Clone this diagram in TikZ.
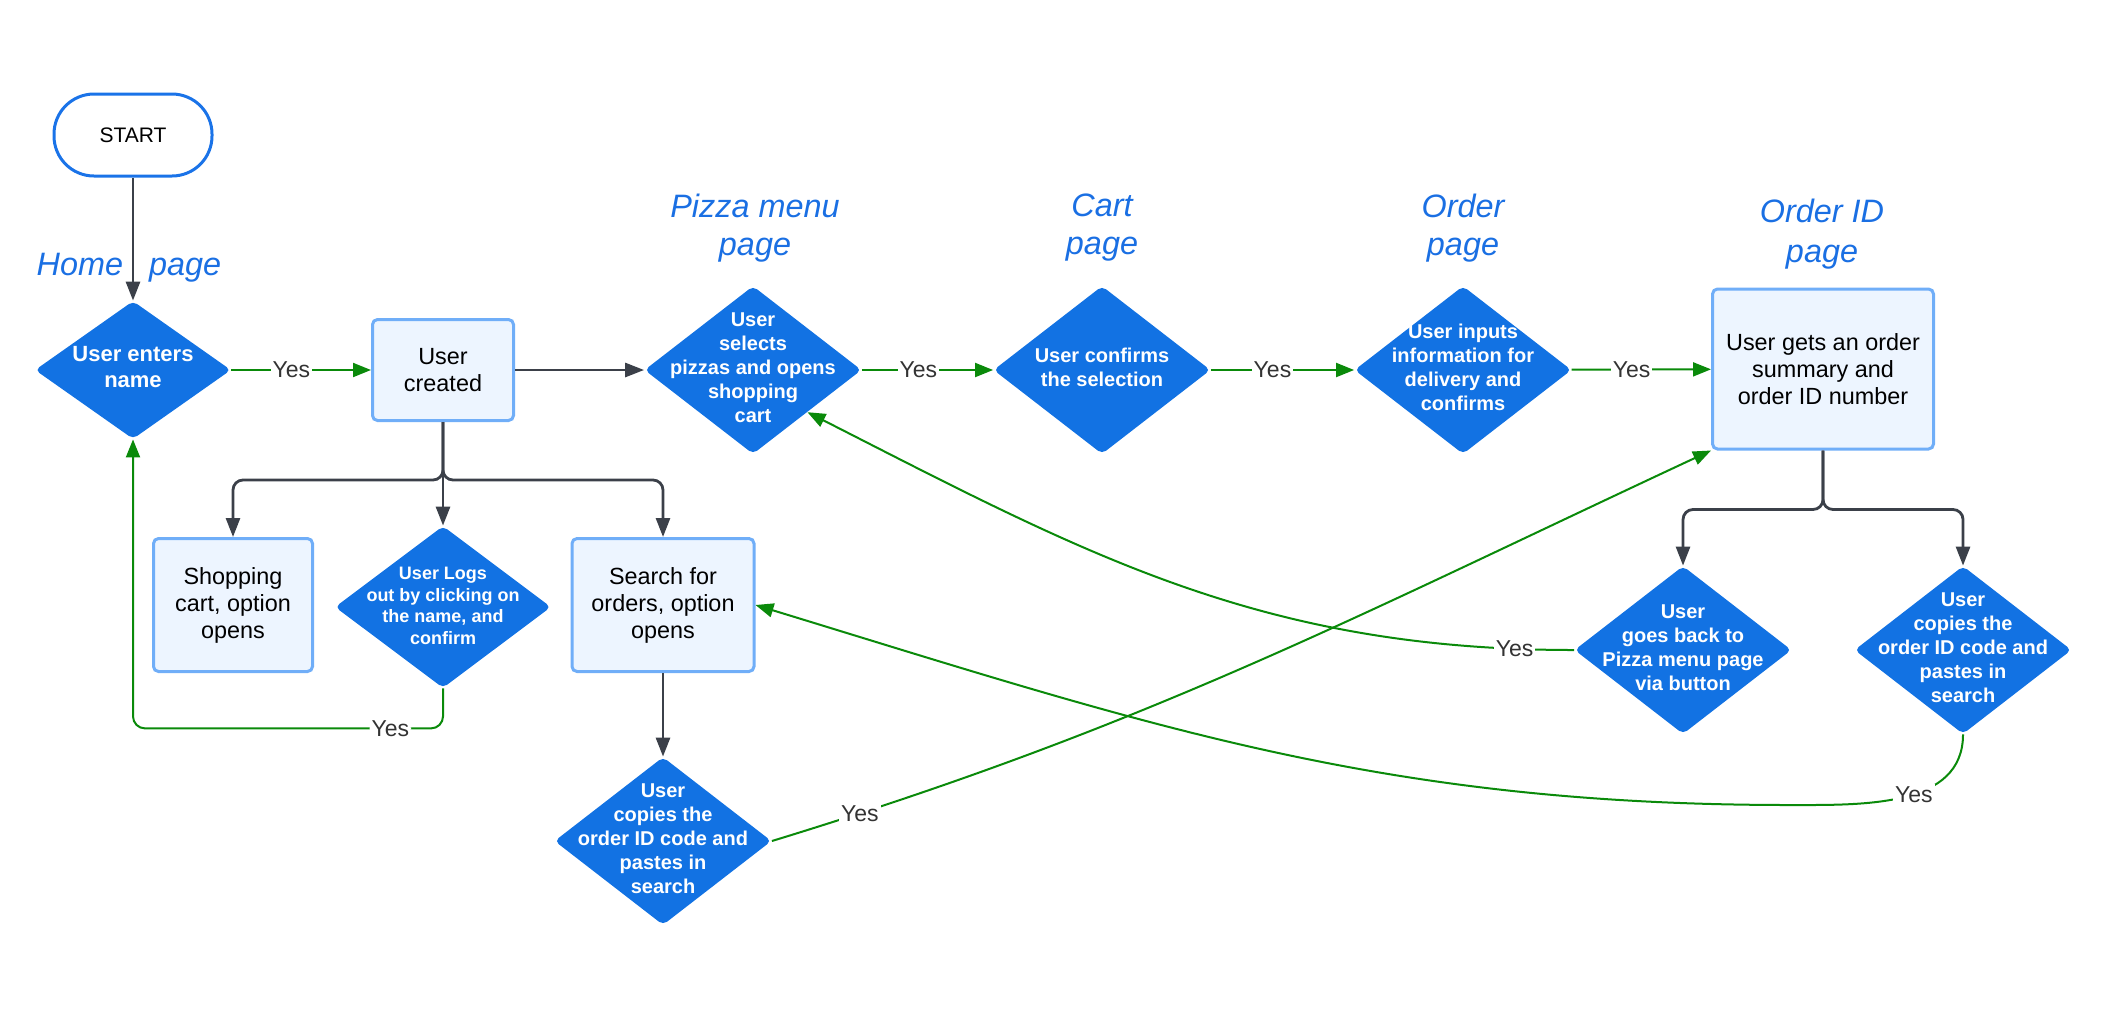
\documentclass[tikz,border=0pt]{standalone}
\usepackage{fontspec}
\setmainfont{Liberation Sans}
\usetikzlibrary{calc,arrows.meta,shapes.geometric,positioning}

\definecolor{decblue}{HTML}{1272E3}
\definecolor{boxfill}{HTML}{EDF5FF}
\definecolor{boxline}{HTML}{70AEF8}
\definecolor{startblue}{HTML}{1A73E8}
\definecolor{titleblue}{HTML}{1A6FE3}
\definecolor{flowgray}{HTML}{3B4049}
\definecolor{yesgreen}{HTML}{0A8A0A}
\definecolor{labelgray}{HTML}{333333}

% text of a decision, kept out of the diamond's size
\newcommand{\dtext}[1]{\makebox[0pt]{\raisebox{-2.5pt}[0pt][0pt]{\begin{tabular}{@{}c@{}}#1\end{tabular}}}}

\begin{document}
\begin{tikzpicture}[x=0.5pt, y=-0.5pt]

\tikzset{
startnode/.style={rectangle,rounded corners=20pt,draw=startblue,line width=1.5pt,fill=white,minimum width=79pt,minimum height=41pt,font=\fontsize{10.5}{12}\selectfont},
decision/.style={diamond,fill=decblue,text=white,inner sep=0pt,rounded corners=2.5pt,minimum width=108.5pt,minimum height=84pt,font=\fontsize{10}{12}\selectfont\bfseries},
process/.style={rectangle,rounded corners=2.5pt,draw=boxline,line width=1.5pt,fill=boxfill,align=center,font=\fontsize{11.7}{13.5}\selectfont},
pagelbl/.style={text=titleblue,align=center,font=\fontsize{16.2}{19}\selectfont\itshape},
flow/.style={draw=flowgray,line width=1.4pt,-{Triangle[length=9.5pt,width=7pt]}},
yesflow/.style={draw=yesgreen,line width=1pt,-{Triangle[length=9pt,width=7pt]}},
yeslbl/.style={fill=white,text=labelgray,inner sep=1pt,font=\fontsize{11.5}{13}\selectfont}
}

\useasboundingbox (0,0) rectangle (2107,1013);

% Nodes
\node[startnode] (start) at (133,135) {START};

\node[decision,minimum width=98pt,minimum height=69pt,font=\fontsize{11}{13}\selectfont\bfseries] (enter) at (133,370) {\dtext{User enters\\name}};
\node[process,minimum width=70.5pt,minimum height=50.5pt] (created) at (443,370) {User\\created};
\node[decision] (pizza) at (753,370) {\dtext{User\\selects\\pizzas and opens\\shopping\\cart}};
\node[decision] (cart) at (1102,370) {\dtext{User confirms\\the selection}};
\node[decision] (order) at (1463,370) {\dtext{User inputs\\information for\\delivery and\\confirms}};
\node[process,minimum width=110.5pt,minimum height=80pt] (orderid) at (1823,369) {User gets an order\\summary and\\order ID number};

\node[process,minimum width=79.5pt,minimum height=66.5pt] (shop) at (233,605) {Shopping\\cart, option\\opens};
\node[decision,minimum width=108pt,minimum height=81pt,font=\fontsize{9}{10.85}\selectfont\bfseries] (logout) at (443,607) {\dtext{User Logs\\out by clicking on\\the name, and\\confirm}};
\node[process,minimum width=91pt,minimum height=66.5pt] (search) at (663,605) {Search for\\orders, option\\opens};
\node[decision] (copyA) at (663,841) {\dtext{User\\copies the\\order ID code and\\pastes in\\search}};

\node[decision] (back) at (1683,650) {\dtext{User\\goes back to\\Pizza menu page\\via button}};
\node[decision] (copyB) at (1963,650) {\dtext{User\\copies the\\order ID code and\\pastes in\\search}};

\coordinate (lowturn) at (1790,805);

% Arrows
\draw[flow] (start) -- (enter);
\draw[yesflow] (enter) -- node[yeslbl,pos=0.43] (yes1) {Yes} (created);
\draw[flow] (created) -- (pizza);
\draw[yesflow] (pizza) -- node[yeslbl,pos=0.43] (yes2) {Yes} (cart);
\draw[yesflow] (cart) -- node[yeslbl,pos=0.43] (yes3) {Yes} (order);
\draw[yesflow] (order) -- node[yeslbl,pos=0.43] (yes4) {Yes} (orderid);

\draw[flow,rounded corners=5pt] (created.south) -- ++(0,58) -| (shop.north);
\draw[flow] (created.south) -- (logout.north);
\draw[flow,rounded corners=5pt] (created.south) -- ++(0,58) -| (search.north);
\draw[flow] (search) -- (copyA);

\draw[flow,rounded corners=5pt] (orderid.south) -- ++(0,59) -| (back.north);
\draw[flow,rounded corners=5pt] (orderid.south) -- ++(0,59) -| (copyB.north);

\draw[yesflow,rounded corners=6pt] (logout.south) -- ++(0,40) -| node[yeslbl,pos=0.085] (yes5) {Yes} (enter.south);

\draw[yesflow] (back.west) to[out=180,in=-27] node[yeslbl,pos=0.065] (yes6) {Yes} (pizza.south east);
\draw[yesflow] (copyB.south) to[out=-90,in=0] node[yeslbl,pos=0.45] (yes7) {Yes} (lowturn) to[out=180,in=-17] (search.east);
\draw[yesflow] (copyA.east) to[out=17,in=-155] node[yeslbl,pos=0.08] (yes8) {Yes} (orderid.south west);

% Labels
\node[pagelbl] (thome) at (129,268) {Home\hspace{13pt}page};
\node[pagelbl] (tpizza) at (755,228) {Pizza menu\\page};
\node[pagelbl] (tcart) at (1102,228) {Cart\\page};
\node[pagelbl] (torder) at (1463,228) {Order\\page};
\node[pagelbl,font=\fontsize{16.2}{20}\selectfont\itshape] (toid) at (1822,234) {Order ID\\page};

\end{tikzpicture}
\end{document}
